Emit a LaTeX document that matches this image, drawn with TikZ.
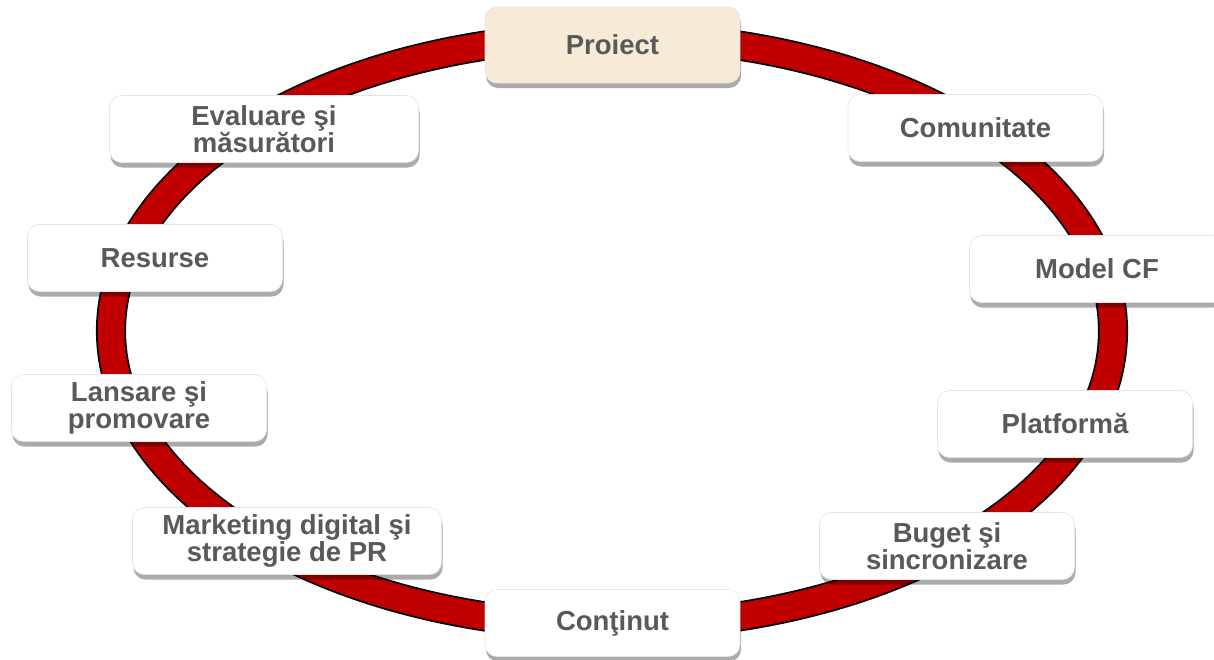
\documentclass[tikz,border=0pt]{standalone}
\usepackage{fontspec}
\setmainfont{Liberation Sans}
\usepackage{tikz}
\usetikzlibrary{shadows}

\definecolor{ringred}{HTML}{C00000}
\definecolor{textgray}{HTML}{595959}
\definecolor{beige}{HTML}{F7EBD7}

\begin{document}
\begin{tikzpicture}[
        x=1pt, y=-1pt,
        % Box styles
        phase/.style={
            rectangle, rounded corners=12pt, draw=black!10, line width=0.6pt,
            fill=white, text=textgray, align=center,
            minimum width=255pt, minimum height=67pt, inner sep=2pt,
            font=\fontsize{27.5}{27}\selectfont\bfseries,
            drop shadow={shadow xshift=1pt, shadow yshift=-5pt, fill=black, opacity=0.33},
        },
        wide phase/.style={phase, minimum width=309pt},
        start phase/.style={phase, fill=beige, minimum height=76pt},
        % Ring style
        ring/.style={
            draw=black, line width=1.8pt, double=ringred, double distance=26.5pt,
        },
    ]
    \useasboundingbox (0,0) rectangle (1214,659);

    % --- the cycle ---
    \draw[ring] (612,331) ellipse (501pt and 295pt);

    % --- phases around the cycle ---
    \node[start phase] (proiect)    at (612.5,45)  {Proiect};
    \node[phase]       (comunitate) at (975.5,128) {Comunitate};
    \node[phase]       (model)      at (1097,269)  {Model CF};
    \node[phase]       (platforma)  at (1065,424)  {Platformă};
    \node[phase]       (buget)      at (947,546)   {Buget şi\\sincronizare};
    \node[phase]       (continut)   at (612.5,623) {Conţinut};
    \node[wide phase]  (marketing)  at (287,541)   {Marketing digital şi\\strategie de PR};
    \node[phase]       (lansare)    at (139,408)   {Lansare şi\\promovare};
    \node[phase]       (resurse)    at (155,258)   {Resurse};
    \node[wide phase]  (evaluare)   at (264,129)   {Evaluare şi\\măsurători};

\end{tikzpicture}
\end{document}
